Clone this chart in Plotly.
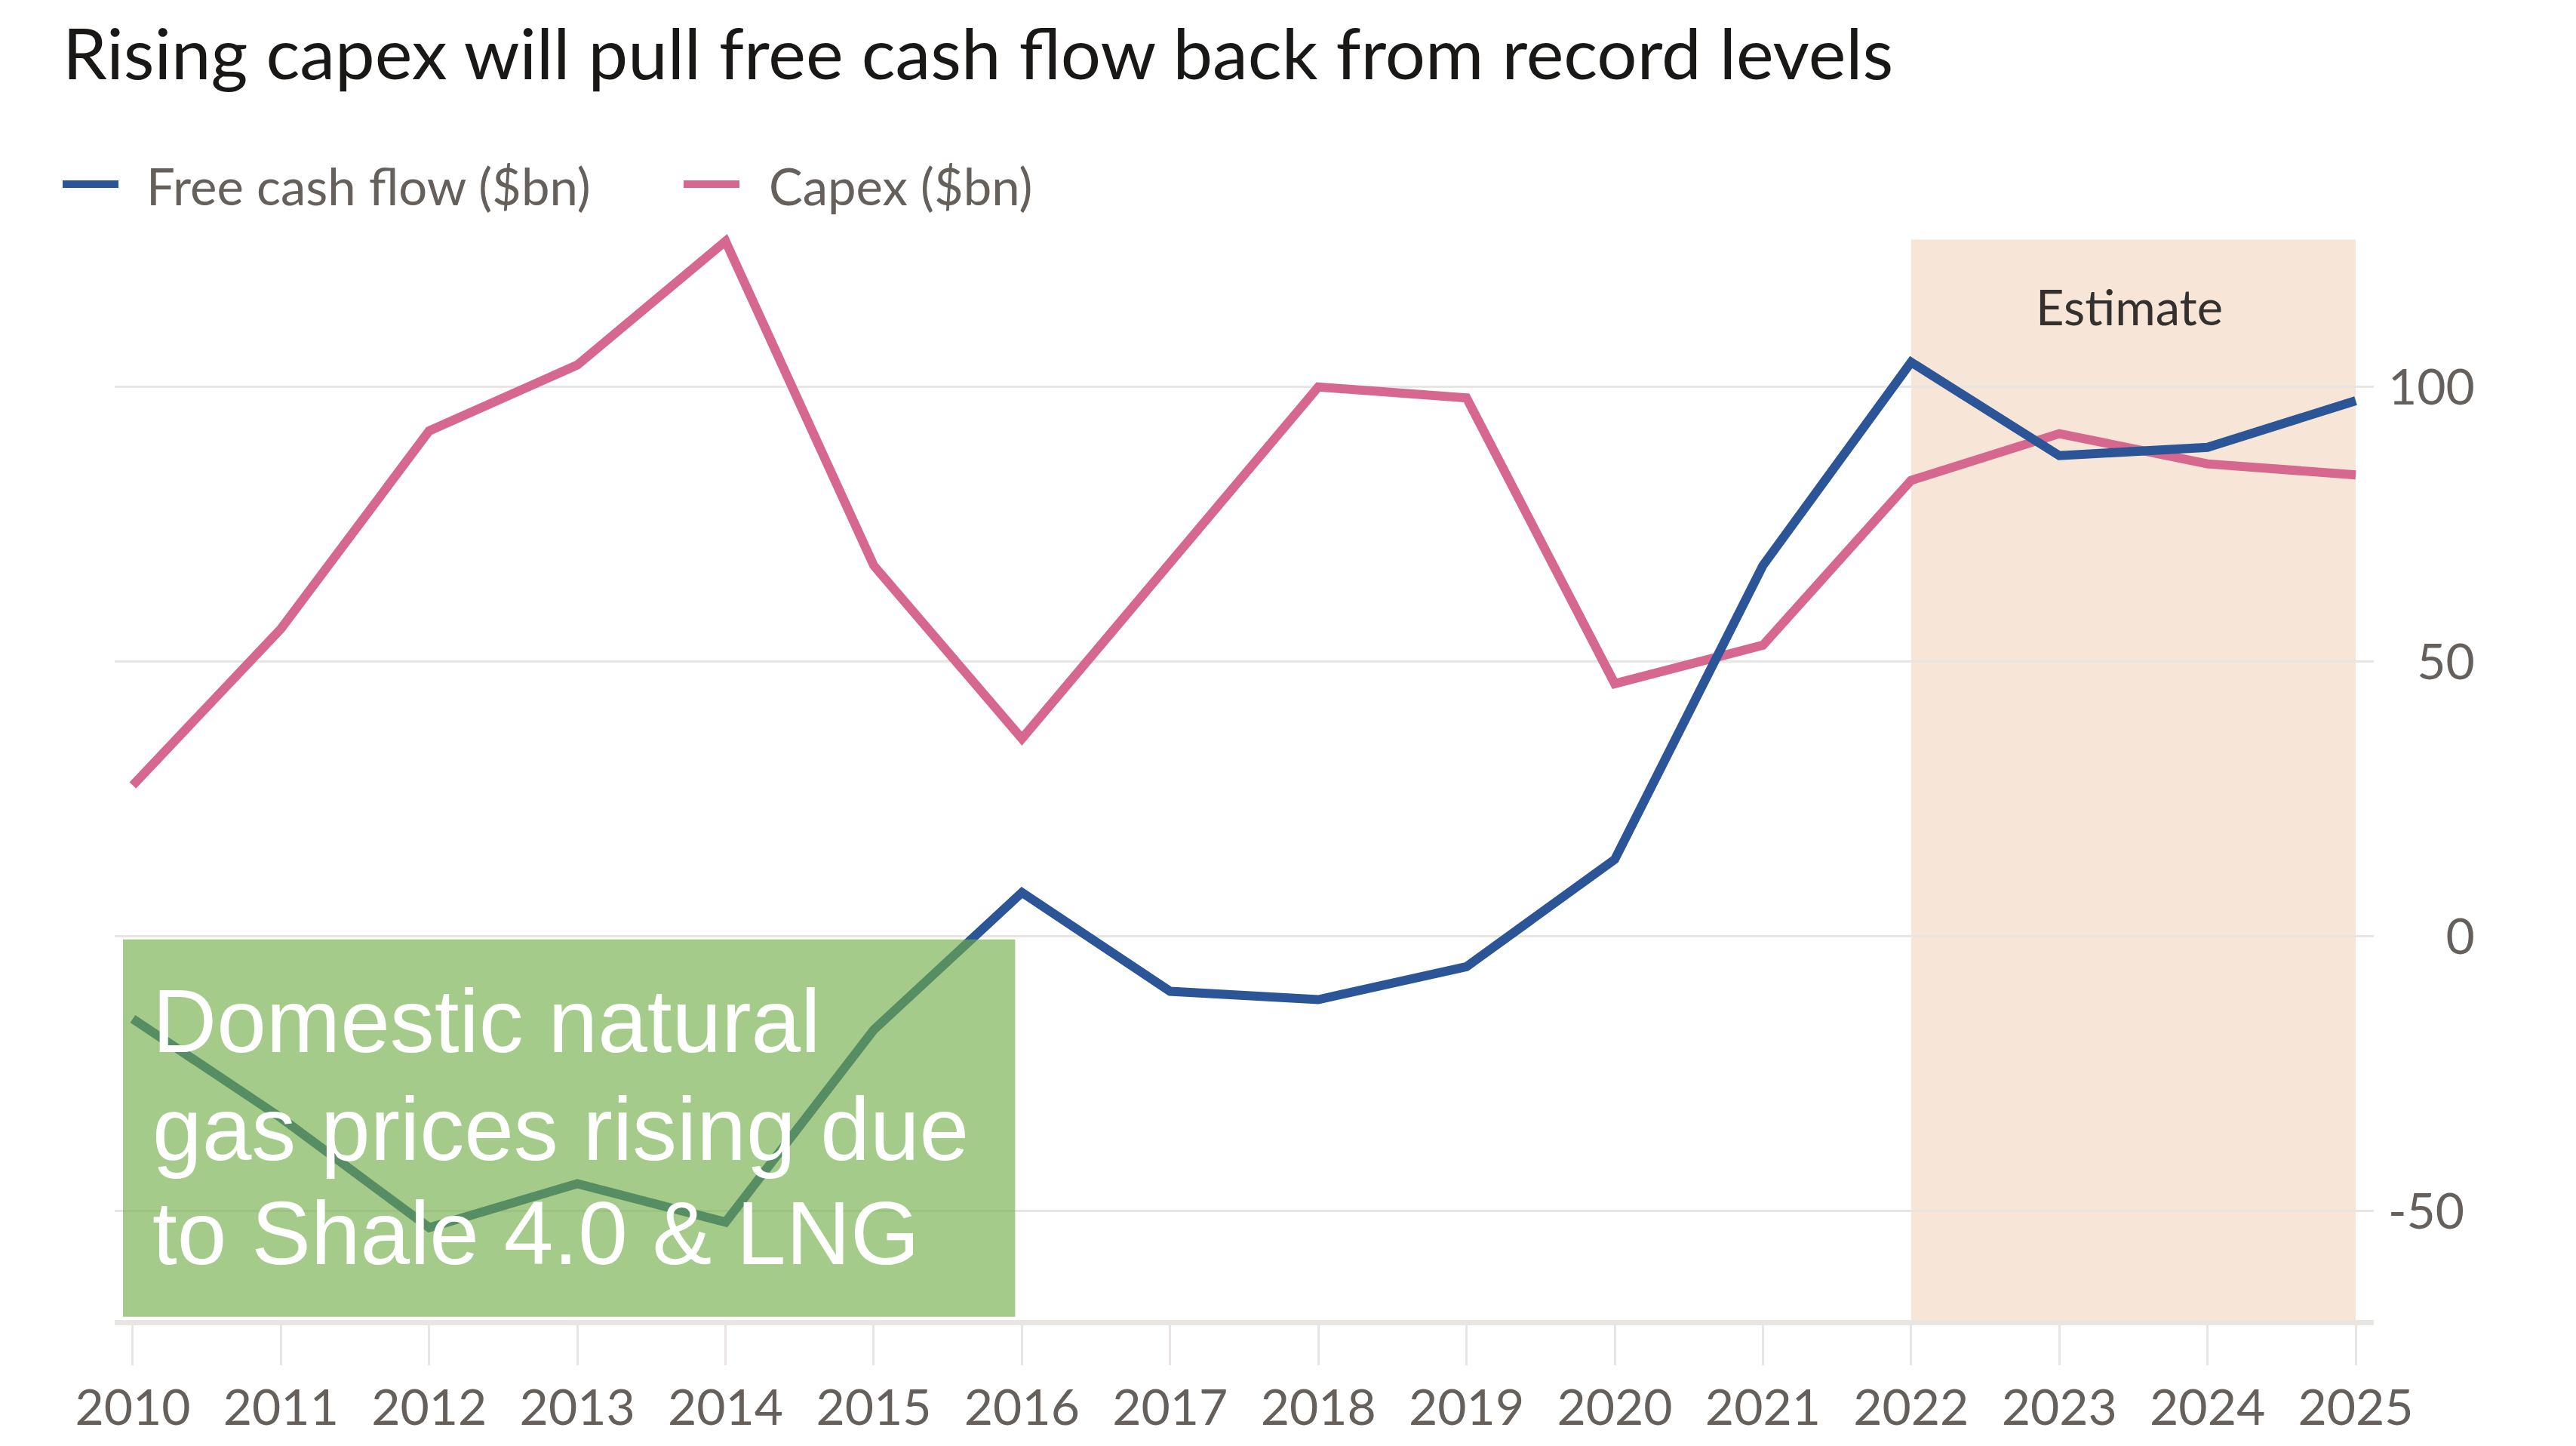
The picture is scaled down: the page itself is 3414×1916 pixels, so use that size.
import plotly.graph_objects as go

years = list(range(2010, 2026))
free_cash_flow = [-15, -33, -53, -45, -52, -17, 8, -10, -11.5, -5.5, 14, 67.5, 104.5, 87.5, 89, 97.5]
capex = [27.5, 56, 92, 104, 126.5, 67.5, 36, 68, 100, 98, 46, 53, 83, 91.5, 86, 84]
y_ticks = [-50, 0, 50, 100]
y_tick_text = ['-50', '\u2007\u20070', '\u200750', '100']

blue = '#2B5597'
pink = '#D6678F'
grid = '#E8E5E2'
label_grey = '#66605C'
font = 'Lato'

x_range = [2009.878, 2025.122]
y_range = [-69.8, 131]


def px_x(p):
    # page pixel -> paper x (plot area spans 152..3146 on the page)
    return (p - 152) / 2994


def px_y(p):
    return (1749 - p) / 1462


fig = go.Figure()
fig.add_trace(go.Scatter(x=years, y=capex, mode='lines', name='Capex ($bn)',
                         line=dict(color=pink, width=12), showlegend=False))
fig.add_trace(go.Scatter(x=years, y=free_cash_flow, mode='lines', name='Free cash flow ($bn)',
                         line=dict(color=blue, width=12), showlegend=False))

# estimate band
fig.add_shape(type='rect', xref='x', yref='y', x0=2022, x1=2025, y0=y_range[0], y1=126.8,
              fillcolor='#F7E6D7', line_width=0, layer='below')
fig.add_annotation(text='Estimate', x=2023.47, y=114.6, xref='x', yref='y', showarrow=False,
                   font=dict(family=font, size=65, color='#33302E'))

# green call-out box
fig.add_shape(type='rect', xref='x', yref='y', x0=2009.934, x1=2015.954, y0=-69.2, y1=-0.55,
              fillcolor='#70AD47', opacity=0.64, line_width=0, layer='above')
for txt, yv in [('Domestic natural', -15.4), ('gas prices rising due', -35.0), ('to Shale 4.0 & LNG', -54.0)]:
    fig.add_annotation(text=txt, x=2010.122, y=yv, xref='x', yref='y', xanchor='left', yanchor='middle',
                       showarrow=False, font=dict(family='Liberation Sans', size=118, color='white'))

# legend drawn by hand so the swatches are long enough
legend_items = [('Free cash flow ($bn)', blue, 83, 157, 192), ('Capex ($bn)', pink, 906, 980, 1017)]
for name, col, x0, x1, tx in legend_items:
    fig.add_shape(type='line', xref='paper', yref='paper', x0=px_x(x0), x1=px_x(x1),
                  y0=px_y(244), y1=px_y(244), line=dict(color=col, width=10))
    fig.add_annotation(text=name, xref='paper', yref='paper', x=px_x(tx), y=px_y(246),
                       xanchor='left', yanchor='middle', showarrow=False,
                       font=dict(family=font, size=67, color=label_grey))

fig.update_layout(
    width=3414, height=1916,
    margin=dict(l=144, r=276, t=279, b=175),
    paper_bgcolor='white', plot_bgcolor='white',
    title=dict(text='Rising capex will pull free cash flow back from record levels',
               x=75 / 3414, xanchor='left', y=1 - 64 / 1916, yanchor='middle',
               font=dict(family=font, size=94, color='#1A1817')),
    showlegend=False,
)
fig.update_xaxes(range=x_range, tickvals=years, ticks='outside', ticklen=53, tickwidth=3,
                 tickcolor=grid, showgrid=False, showline=True, linewidth=7, linecolor=grid,
                 zeroline=False, tickfont=dict(family=font, size=66, color=label_grey))
fig.update_yaxes(range=y_range, side='right', tickvals=y_ticks, ticktext=y_tick_text,
                 showgrid=True, gridcolor=grid, gridwidth=3, zeroline=False, showline=False,
                 ticks='', ticklabelstandoff=18, tickfont=dict(family=font, size=66, color=label_grey))

fig.write_html('out.html')
